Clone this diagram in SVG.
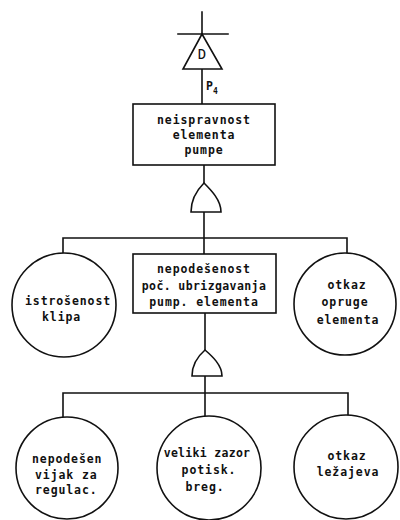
<svg xmlns="http://www.w3.org/2000/svg" width="400" height="520" viewBox="0 0 400 520">
  <style>
    .ln { stroke: #111; stroke-width: 1.6; fill: none; stroke-linecap: square; }
    .shape { stroke: #111; stroke-width: 1.6; fill: #fff; }
    .lbl { font-family: "DejaVu Sans Mono", "Liberation Mono", monospace; font-size: 11.5px; font-weight: bold; fill: #111; letter-spacing: 0.9px; }
    .mid { text-anchor: middle; }
  </style>
  <rect width="400" height="520" fill="#fff"/>

  <!-- connectors -->
  <g id="connectors">
    <line class="ln" x1="202" y1="12" x2="202" y2="34"/>
    <line class="ln" x1="178" y1="34" x2="228" y2="34"/>
    <line class="ln" x1="202" y1="69" x2="202" y2="104"/>
    <line class="ln" x1="204" y1="165" x2="204" y2="183"/>
    <line class="ln" x1="204" y1="212" x2="204" y2="254"/>
    <polyline class="ln" points="63,253 63,238 347,238 347,253"/>
    <line class="ln" x1="205" y1="313" x2="205" y2="350"/>
    <line class="ln" x1="205" y1="376" x2="205" y2="417"/>
    <polyline class="ln" points="63,417 63,393 348,393 348,416"/>
  </g>

  <!-- transfer symbol -->
  <g id="transfer">
    <polygon class="shape" points="202,34 222,69 183,69"/>
    <text class="lbl" x="202" y="59" text-anchor="middle" style="font-size:14px;font-weight:normal;letter-spacing:0">D</text>
    <text class="lbl" x="206" y="90" style="letter-spacing:0">P<tspan dy="4" style="font-size:8px">4</tspan></text>
  </g>

  <!-- top event -->
  <g id="top-event">
    <rect class="shape" x="133" y="104" width="142" height="61"/>
    <text class="lbl mid" x="204" y="124">neispravnost</text>
    <text class="lbl mid" x="204" y="139">elementa</text>
    <text class="lbl mid" x="204" y="154">pumpe</text>
  </g>

  <!-- OR gate 1 -->
  <g id="gate-or-1">
    <path class="shape" d="M191,212 C191,200 197,190 204,183 C211,190 221,200 221,212 Z"/>
  </g>

  <g id="basic-istrosenost">
    <circle class="shape" cx="64" cy="305" r="52"/>
    <text class="lbl" x="25" y="305">istrošenost</text>
    <text class="lbl" x="42" y="321">klipa</text>
  </g>

  <g id="event-nepodesenost">
    <rect class="shape" x="133" y="254" width="143" height="59"/>
    <text class="lbl mid" x="204" y="273">nepodešenost</text>
    <text class="lbl mid" x="204" y="290" style="letter-spacing:0.4px">poč. ubrizgavanja</text>
    <text class="lbl mid" x="204" y="306">pump. elementa</text>
  </g>

  <g id="basic-opruge">
    <circle class="shape" cx="345" cy="304" r="51"/>
    <text class="lbl mid" x="347" y="289">otkaz</text>
    <text class="lbl mid" x="345" y="306">opruge</text>
    <text class="lbl mid" x="348" y="324">elementa</text>
  </g>

  <!-- OR gate 2 -->
  <g id="gate-or-2">
    <path class="shape" d="M192,376 C192,365 198,356 205,350 C212,356 222,365 222,376 Z"/>
  </g>

  <g id="basic-vijak">
    <circle class="shape" cx="67" cy="468" r="51"/>
    <text class="lbl" x="32" y="463">nepodešen</text>
    <text class="lbl" x="35" y="479">vijak za</text>
    <text class="lbl" x="35" y="494">regulac.</text>
  </g>

  <g id="basic-zazor">
    <circle class="shape" cx="209" cy="468" r="52"/>
    <text class="lbl mid" x="207" y="457" style="letter-spacing:0.3px">veliki zazor</text>
    <text class="lbl mid" x="209" y="474">potisk.</text>
    <text class="lbl mid" x="205" y="491">breg.</text>
  </g>

  <g id="basic-lezajevi">
    <circle class="shape" cx="346" cy="467" r="52"/>
    <text class="lbl mid" x="347" y="460">otkaz</text>
    <text class="lbl mid" x="348" y="476">ležajeva</text>
  </g>
</svg>
